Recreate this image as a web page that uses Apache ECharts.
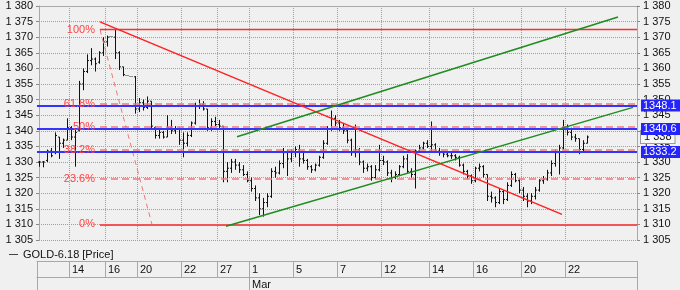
<!DOCTYPE html>
<html><head><meta charset="utf-8">
<script src="https://cdn.jsdelivr.net/npm/echarts@6/dist/echarts.min.js"></script>
<style>html,body{margin:0;padding:0;background:#f0f0f0;}#c{width:680px;height:290px;}</style>
</head><body><div id="c"></div>
<script>
const seriesName = 'GOLD-6.18 [Price]';
const opens = [
1330,1330,1330.5,1333.5,1333,1338,1336,1337,1341,1338,
1340,1355,1359,1362.5,1363,1362,1365,1368.5,1370.5,1370,
1365,1360.5,1358,1357.5,1357.3,1347,1349,1347.5,1349.5,1341,
1338.5,1339.5,1338,1341,1340,1340.5,1337,1336,1338.5,1342.5,
1348,1348.5,1347,1341,1343,1342,1341.5,1327,1328,1330,
1329,1327.5,1326,1324,1321.5,1318.5,1315,1317,1319,1327,
1326.5,1329.5,1333,1331,1333,1334,1331,1330.5,1328.5,1327.5,
1329,1331.5,1336,1340.5,1344,1342.5,1341,1340,1337,1333,
1334,1330,1328,1328.5,1325,1327.5,1330.5,1330,1326.5,1325,
1326,1328.5,1331,1327,1326,1333.5,1334.5,1336,1335,1335.5,
1333.5,1333,1332.5,1332,1332,1331.5,1329,1327,1325.5,1324,
1328,1328.5,1326,1319,1318.5,1317,1320.5,1318,1322.5,1326,
1324,1321,1319,1317.5,1319,1321,1324,1324.5,1326.5,1329.5,
1333,1334.5,1340.5,1339.5,1338,1337.5,1334,1336];
const highs = [
1330.3,1330.3,1334,1334.5,1339.5,1338,1337.5,1344,1341.5,1340.5,
1356,1360,1364.5,1366.5,1363.5,1365.5,1370,1370.5,1370.5,1372.5,
1365.5,1360.5,1358,1357.5,1357.5,1350.5,1350,1351,1349.5,1341.5,
1340.5,1340,1345,1343.5,1341.5,1341,1339.5,1339.5,1343,1349,
1350,1349.5,1347,1344,1344.5,1343.5,1341.5,1330,1331,1331,
1330,1329,1327,1325,1322.5,1320,1318.5,1320,1328,1328.5,
1330.5,1334.5,1334,1334,1335,1335.5,1333.5,1331,1329,1329.5,
1332,1337,1341.5,1346.5,1345,1343.5,1342.5,1340.5,1337.5,1342,
1334.5,1330.5,1329.5,1329,1329,1335.5,1332,1330.5,1327.5,1327,
1329,1332,1332.5,1328,1334,1335.5,1336.5,1337,1343,1336,
1334.5,1333.5,1333.5,1333,1332.5,1332,1329.5,1327.5,1326,1328.5,
1329.5,1329,1326,1320.5,1319,1321.5,1321,1323.5,1327,1326.5,
1324.5,1322,1320,1320,1322,1324.5,1325.5,1327.5,1330.5,1334,
1335.5,1343.5,1342,1341,1339,1337.5,1337,1338.5];
const lows = [
1328.5,1328.3,1330,1331.5,1332.5,1331,1334.5,1337,1337,1328.5,
1340,1353,1358.5,1361,1359,1361.5,1364,1367,1370.5,1363,
1359.5,1357.5,1358,1357.5,1345.5,1346,1346.5,1347,1340.5,1337.5,
1337.5,1337.5,1338,1339,1339,1335.5,1331.5,1335,1338,1342,
1347,1346.5,1340,1340,1341.5,1340.5,1323.5,1323.5,1326.5,1327.5,
1326.5,1325.5,1323.5,1320.5,1317.5,1313,1312.5,1315.5,1318.5,1325,
1326,1328,1325.5,1330,1331.5,1328.5,1329.5,1327.5,1326.5,1327,
1328.5,1331,1335.5,1340,1341.5,1340,1339,1336,1332,1331.5,
1329,1326.5,1327,1324,1324.5,1327,1329,1325.5,1323.5,1324.5,
1325.5,1328,1326.5,1325,1321.5,1333,1334,1334.5,1333.5,1333,
1332,1331.5,1331.5,1331,1330.5,1328.5,1326,1324.5,1323,1323.5,
1327,1325,1317.5,1317,1315.5,1316.5,1316.5,1317.5,1322,1323.5,
1320,1317.5,1315.5,1316.5,1318,1320.5,1323,1324,1325.5,1328.5,
1326,1334,1338.5,1337,1336.5,1332.5,1333.5,1336];
const closes = [
1330,1330,1333.5,1332,1338.5,1336,1337,1341,1338,1339.5,
1355,1359,1362.5,1363,1361.5,1365,1368.5,1370,1370.5,1365,
1360.5,1358,1358,1357.5,1347,1349,1347.5,1349.5,1341.5,1338.5,
1339.5,1338,1341,1340,1340.5,1337,1336,1338.5,1342.5,1348,
1348.5,1347,1341,1343,1342,1341.5,1327,1328,1330,1329,
1327.5,1326,1324,1321.5,1318.5,1315,1317,1319,1327,1326.5,
1329.5,1333,1331,1333,1334,1331,1330.5,1328.5,1327.5,1329,
1331.5,1336,1340.5,1344,1342.5,1341,1340,1337,1333,1334,
1330,1328,1328.5,1325,1327.5,1330.5,1330,1326.5,1325,1326,
1328.5,1331,1327,1326,1333.5,1334.5,1336,1335,1335.5,1333.5,
1333,1332.5,1332,1332,1331.5,1329,1327,1325.5,1324,1328,
1328.5,1326,1319,1318.5,1317,1320.5,1318,1322.5,1326,1324,
1321,1319,1317.5,1319,1321,1324,1324.5,1326.5,1329.5,1333,
1334.5,1340.5,1339.5,1338,1337.5,1334,1336,1338];
const slotCount = 150;
const dayLabels = ['14','16','20','22','27','1','5','7','12','14','16','20','22'];
const dayStart = [8,17,25,36,45,53,64,75,86,98,109,121,132];
const monthLabels = ['Mar'];
const monthStart = [53];
const yMin = 1305, yMax = 1380, yStep = 5;
const fibLevels = [1372.4, 1348.56, 1341.2, 1333.84, 1324.7, 1310.0];
const fibNames = ['100%','61.8%','50%','38.2%','23.6%','0%'];
const fibSpan = [15.25, 149.5];
const fibDiagonal = [[15.25,1372.4],[28.25,1310.0]];
const blueLevels = [1348.1, 1340.6, 1333.2];
const redTrend = [[15.25,1374.9],[130.75,1313.2]];
const greenUpper = [[49.5,1338.1],[144.75,1376.5]];
const greenLower = [[46.75,1309.4],[148.5,1347.5]];

const FONT = 'Liberation Sans, Arial, sans-serif';
const dayMap = {}; dayStart.forEach((s,k)=>dayMap[s]=dayLabels[k]);
const monMap = {}; monthStart.forEach((s,k)=>monMap[s]=monthLabels[k]);
const cats = [], cats2 = [];
for (let i=0;i<slotCount;i++){ cats.push(dayMap[i]||''); cats2.push(monMap[i]||''); }
const ohlc = opens.map((o,i)=>[i,o,highs[i],lows[i],closes[i]]);
const lastClose = closes[closes.length-1];
const fmt = v => { const s=String(v); return s.length===4 ? s[0]+' '+s.slice(1) : s; };
const xSpanMin = -0.5, xSpanMax = slotCount-0.5;

const chart = echarts.init(document.getElementById('c'), null, {renderer:'canvas'});
const fibMark = fibLevels.map((v,k)=>{
  const solid = (k===0 || k===fibLevels.length-1);
  return [{name:fibNames[k], coord:[fibSpan[0],v], lineStyle:{color: solid?(k===0?'#ff2e2e':'#f25555'):'#f07878', width: solid?(k===0?1.3:2):1.5, type: solid?'solid':[7,4]},
           label:{show:true, position:'start', formatter:fibNames[k], color:'#ff4444', fontSize:11, fontFamily:FONT, distance:5}},
          {coord:[fibSpan[1],v]}];
});
const blueMark = blueLevels.map(v=>[{name:v.toFixed(1), coord:[xSpanMin,v]},{coord:[xSpanMax,v]}]);
const lastMark = [[{name:fmt(lastClose), coord:[closes.length-1, lastClose]},{coord:[xSpanMax, lastClose]}]];

chart.setOption({
  animation:false,
  backgroundColor:'#f0f0f0',
  textStyle:{fontFamily:FONT},
  grid:{left:37, right:43, top:6, bottom:49, containLabel:false},
  legend:{data:[{name:seriesName, icon:'rect', itemStyle:{color:'#444'}}], left:9, top:249, padding:0, itemWidth:9, itemHeight:1, itemGap:5,
    textStyle:{fontSize:11, color:'#111', fontFamily:FONT}},
  xAxis:[
    {type:'category', data:cats, boundaryGap:true, position:'bottom', offset:21,
     axisLine:{show:true, lineStyle:{color:'#a8a8a8'}},
     axisTick:{show:true, length:16, interval:(i)=>i===0||dayMap[i]!==undefined, lineStyle:{color:'#a8a8a8'}},
     axisLabel:{show:true, interval:(i)=>dayMap[i]!==undefined, align:'left', margin:3, fontSize:11, color:'#111', fontFamily:FONT, padding:[0,0,0,1]},
     splitLine:{show:true, interval:(i)=>dayMap[i]!==undefined, lineStyle:{color:'#a0a0a0', type:'dotted'}}},
    {type:'category', data:cats2, boundaryGap:true, position:'bottom', offset:37,
     axisLine:{show:true, lineStyle:{color:'#a8a8a8'}},
     axisTick:{show:true, length:13, interval:(i)=>i===0||monMap[i]!==undefined, lineStyle:{color:'#a8a8a8'}},
     axisLabel:{show:true, interval:(i)=>monMap[i]!==undefined, align:'left', margin:2, fontSize:11, color:'#111', fontFamily:FONT, padding:[0,0,0,1]},
     splitLine:{show:false}},
    {type:'value', min:xSpanMin, max:xSpanMax, position:'top',
     axisLine:{show:true, lineStyle:{color:'#a8a8a8'}}, axisTick:{show:false}, axisLabel:{show:false}, splitLine:{show:false}}
  ],
  yAxis:[
    {type:'value', position:'left', min:yMin, max:yMax, interval:yStep,
     axisLine:{show:true, lineStyle:{color:'#a8a8a8'}}, axisTick:{show:true, length:3, lineStyle:{color:'#888'}},
     axisLabel:{margin:4, fontSize:11, color:'#111', fontFamily:FONT, formatter:fmt},
     splitLine:{show:true, lineStyle:{color:'#a0a0a0', type:'dotted'}}},
    {type:'value', position:'right', min:yMin, max:yMax, interval:yStep,
     axisLine:{show:true, lineStyle:{color:'#a8a8a8'}}, axisTick:{show:true, length:3, lineStyle:{color:'#888'}},
     axisLabel:{margin:6, fontSize:11, color:'#111', fontFamily:FONT, formatter:fmt},
     splitLine:{show:false}}
  ],
  series:[
    {type:'custom', name:seriesName, xAxisIndex:0, yAxisIndex:0, data:ohlc, z:3,
     itemStyle:{color:'#444'},
     encode:{x:0, y:[1,2,3,4]},
     renderItem:function(params, api){
       const i = api.value(0);
       const o = api.coord([i, api.value(1)]);
       const h = api.coord([i, api.value(2)]);
       const l = api.coord([i, api.value(3)]);
       const c = api.coord([i, api.value(4)]);
       const x = Math.round(o[0]) + 0.5;
       if (api.value(2) === api.value(3)) {
         const y = Math.round(h[1]);
         return {type:'group', children:[
           {type:'rect', shape:{x:x-2, y:y, width:1, height:1}, style:{fill:'#333'}},
           {type:'rect', shape:{x:x, y:y, width:1, height:1}, style:{fill:'#333'}}]};
       }
       const st = {stroke:'#111', lineWidth:1};
       return {type:'group', children:[
         {type:'line', shape:{x1:x, y1:h[1], x2:x, y2:l[1]}, style:st},
         {type:'line', shape:{x1:x-1.5, y1:o[1], x2:x, y2:o[1]}, style:st},
         {type:'line', shape:{x1:x, y1:c[1], x2:x+1.5, y2:c[1]}, style:st}
       ]};
     }},
    {type:'line', name:'fib', xAxisIndex:2, yAxisIndex:0, data:fibDiagonal, symbol:'none', silent:true, z:4,
     lineStyle:{color:'#f07878', width:1, type:[5,4]},
     markLine:{silent:true, symbol:['none','none'], animation:false, data:fibMark}},
    {type:'line', name:'red', xAxisIndex:2, yAxisIndex:0, data:redTrend, symbol:'none', silent:true, z:5,
     lineStyle:{color:'#ff2020', width:1.5}},
    {type:'line', name:'gUp', xAxisIndex:2, yAxisIndex:0, data:greenUpper, symbol:'none', silent:true, z:5,
     lineStyle:{color:'#1e8c1e', width:1.5}},
    {type:'line', name:'gLo', xAxisIndex:2, yAxisIndex:0, data:greenLower, symbol:'none', silent:true, z:5,
     lineStyle:{color:'#1e8c1e', width:1.5}},
    {type:'line', name:'last', xAxisIndex:2, yAxisIndex:0, data:[], symbol:'none', silent:true, z:6,
     markLine:{silent:true, symbol:['none','none'], lineStyle:{color:'rgba(0,0,0,0)', width:1},
       label:{show:true, position:'end', distance:4, formatter:'{b}', color:'#111', fontSize:11, fontFamily:FONT,
              backgroundColor:'#f7f7f7', borderColor:'#999', borderWidth:1, padding:[1,3,0,3]},
       data:lastMark}},
    {type:'line', name:'blue', xAxisIndex:2, yAxisIndex:0, data:[], symbol:'none', silent:true, z:7,
     markLine:{silent:true, symbol:['none','none'], lineStyle:{color:'#3434ff', width:2, type:'solid'},
       label:{show:true, position:'end', distance:4, formatter:'{b}', color:'#fff', fontSize:11, fontFamily:FONT,
              backgroundColor:'#2424ff', padding:[1,4,0,2]},
       data:blueMark}}
  ]
});
</script></body></html>
